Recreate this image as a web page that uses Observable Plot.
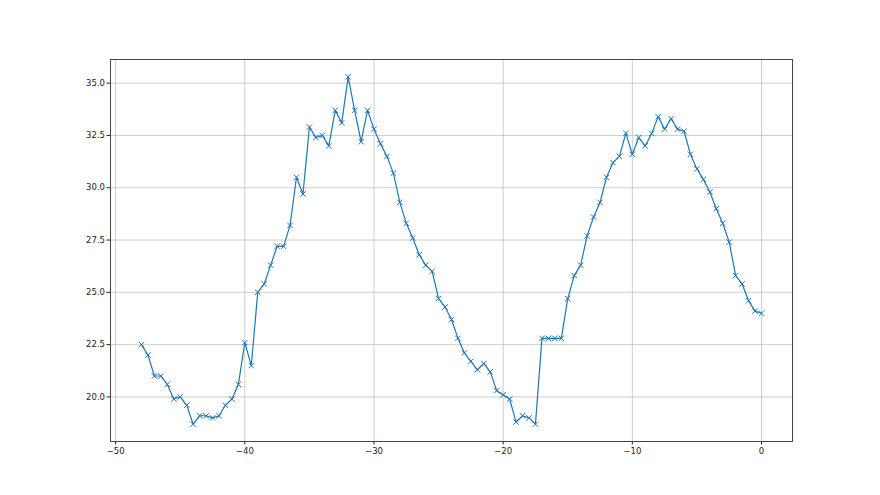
<!DOCTYPE html>
<html>
<head>
<meta charset="utf-8">
<script src="https://cdn.jsdelivr.net/npm/d3@7"></script>
<script src="https://cdn.jsdelivr.net/npm/@observablehq/plot@0.6"></script>
<style>
  html, body { margin: 0; padding: 0; background: #fff; }
  #chart svg { display: block; }
</style>
</head>
<body>
<div id="chart"></div>
<script>
const xs = [-48, -47.5, -47, -46.5, -46, -45.5, -45, -44.5, -44, -43.5, -43, -42.5, -42, -41.5, -41, -40.5,
  -40, -39.5, -39, -38.5, -38, -37.5, -37, -36.5, -36, -35.5, -35, -34.5, -34, -33.5, -33, -32.5,
  -32, -31.5, -31, -30.5, -30, -29.5, -29, -28.5, -28, -27.5, -27, -26.5, -26, -25.5, -25, -24.5,
  -24, -23.5, -23, -22.5, -22, -21.5, -21, -20.5, -20, -19.5, -19, -18.5, -18, -17.5, -17, -16.5,
  -16, -15.5, -15, -14.5, -14, -13.5, -13, -12.5, -12, -11.5, -11, -10.5, -10, -9.5, -9, -8.5,
  -8, -7.5, -7, -6.5, -6, -5.5, -5, -4.5, -4, -3.5, -3, -2.5, -2, -1.5, -1, -0.5, 0];
const ys = [22.5, 22.0, 21.0, 21.0, 20.6, 19.9, 20.0, 19.6, 18.7, 19.1, 19.1, 19.0, 19.1, 19.6, 19.9, 20.6,
  22.6, 21.5, 25.0, 25.4, 26.3, 27.2, 27.2, 28.2, 30.5, 29.7, 32.9, 32.4, 32.5, 32.0, 33.7, 33.1,
  35.3, 33.7, 32.2, 33.7, 32.8, 32.1, 31.5, 30.7, 29.3, 28.3, 27.6, 26.8, 26.3, 26.0, 24.7, 24.3,
  23.7, 22.8, 22.1, 21.7, 21.3, 21.6, 21.2, 20.3, 20.1, 19.9, 18.8, 19.1, 19.0, 18.7, 22.8, 22.8,
  22.8, 22.8, 24.7, 25.8, 26.3, 27.7, 28.6, 29.3, 30.5, 31.2, 31.5, 32.6, 31.6, 32.4, 32.0, 32.6,
  33.4, 32.8, 33.3, 32.8, 32.7, 31.6, 30.9, 30.4, 29.8, 29.0, 28.3, 27.4, 25.8, 25.4, 24.6, 24.1, 24.0];
const xTicks = [-50, -40, -30, -20, -10, 0];
const yTicks = [20.0, 22.5, 25.0, 27.5, 30.0, 32.5, 35.0];

const data = xs.map((x, i) => ({x, y: ys[i]}));

const chart = Plot.plot({
  width: 880,
  height: 495,
  marginLeft: 110,
  marginRight: 88,
  marginTop: 59,
  marginBottom: 54,
  style: {fontFamily: "DejaVu Sans", fontSize: "8.5px", background: "#fff", color: "#222"},
  x: {domain: [-50.4, 2.4]},
  y: {domain: [17.87, 36.13]},
  marks: [
    Plot.gridX(xTicks, {stroke: "#b0b0b0", strokeOpacity: 0.8, strokeWidth: 0.8}),
    Plot.gridY(yTicks, {stroke: "#b0b0b0", strokeOpacity: 0.8, strokeWidth: 0.8}),
    Plot.axisX(xTicks, {tickSize: 3.5, tickPadding: 2.5, label: null, stroke: "#222", fill: "#222"}),
    Plot.axisY(yTicks, {tickSize: 3.5, tickPadding: 2, label: null, tickFormat: d3.format(".1f"), stroke: "#222", fill: "#222"}),
    Plot.line(data, {x: "x", y: "y", stroke: "#1f77b4", strokeWidth: 1.2}),
    Plot.dot(data, {x: "x", y: "y", symbol: "times", stroke: "#1f77b4", r: 2.6, strokeWidth: 1}),
    Plot.frame({stroke: "#333", strokeWidth: 0.9})
  ]
});
document.getElementById("chart").appendChild(chart);
</script>
</body>
</html>
